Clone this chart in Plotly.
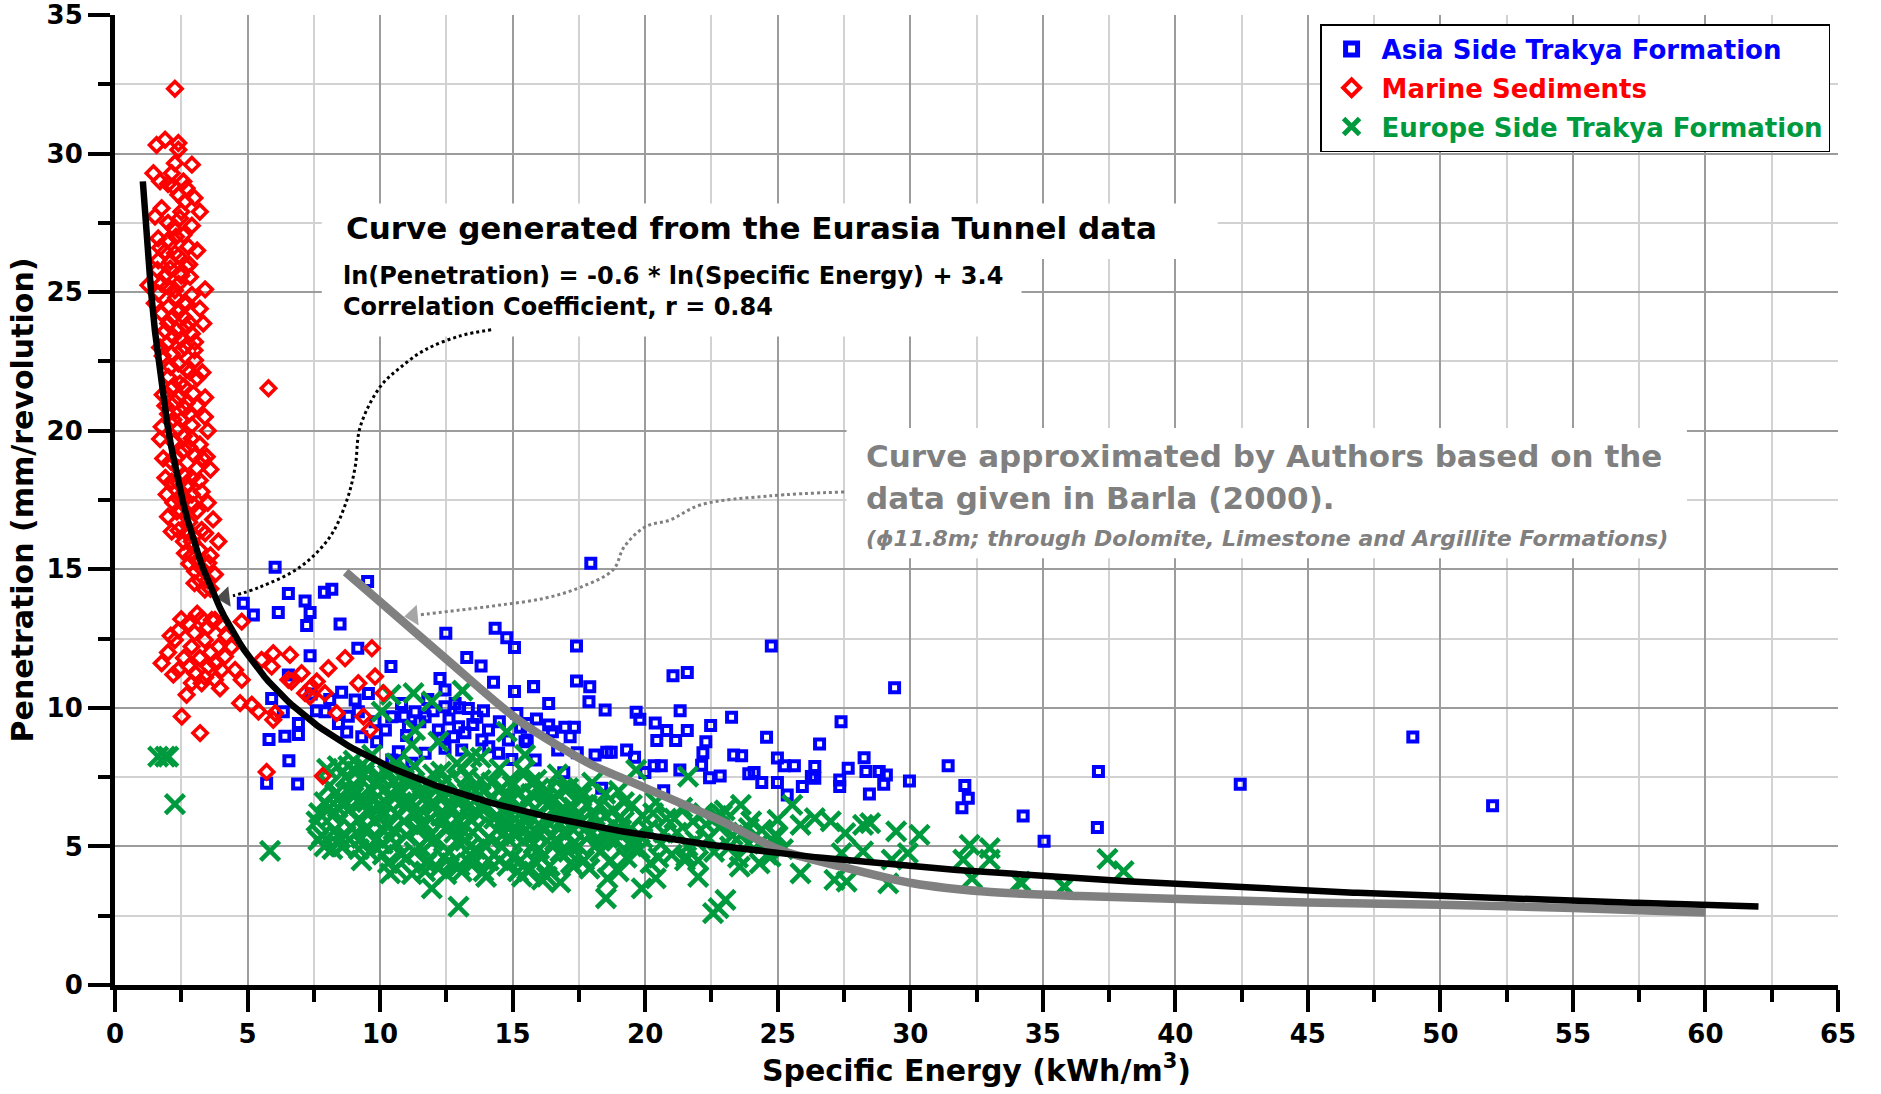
import numpy as np
import plotly.graph_objects as go

# ---------------------------------------------------------------------------
# Measured data (Specific Energy [kWh/m3], Penetration [mm/rev])
# ---------------------------------------------------------------------------
asia_pts = [
    (6.04, 15.07), (6.54, 14.13), (4.84, 13.77), (5.22, 13.35), (7.17, 13.86), (7.36, 13.44),
    (7.90, 14.17), (8.18, 14.28), (9.53, 14.56), (6.16, 13.44), (7.23, 12.97), (8.49, 13.03),
    (12.48, 12.69), (14.34, 12.87), (14.78, 12.53), (15.07, 12.18), (7.36, 11.88), (9.16, 12.15),
    (10.41, 11.49), (13.27, 11.82), (13.81, 11.51), (12.26, 11.06), (12.45, 10.64), (14.28, 10.92),
    (15.07, 10.59), (15.79, 10.77), (6.54, 11.19), (5.91, 10.34), (8.55, 10.56), (9.06, 10.28),
    (9.56, 10.52), (10.81, 10.16), (11.32, 9.86), (12.45, 10.04), (12.83, 10.16), (13.33, 9.98),
    (13.65, 9.66), (15.16, 9.80), (6.35, 9.86), (6.92, 9.44), (7.92, 9.86), (8.43, 9.44),
    (9.18, 9.86), (9.81, 9.50), (10.44, 9.68), (11.07, 9.32), (11.70, 9.68), (12.20, 9.20),
    (12.96, 9.32), (14.09, 9.20), (14.84, 8.84), (15.47, 8.78), (5.81, 8.86), (6.41, 8.98),
    (6.92, 9.04), (8.74, 9.13), (9.31, 8.96), (9.87, 8.78), (12.77, 8.96), (13.84, 8.84),
    (14.47, 8.36), (14.97, 8.14), (10.69, 8.42), (11.70, 8.36), (12.45, 8.54), (13.08, 8.48),
    (6.56, 8.09), (5.72, 7.28), (6.89, 7.25), (10.44, 8.12), (11.20, 8.00),
    (11.5, 9.5), (12.0, 9.9), (12.6, 9.6), (13.0, 10.0), (11.0, 9.0), (13.5, 9.4), (14.5, 9.5),
    (10.9, 9.7), (12.3, 8.9), (13.9, 9.9), (15.3, 9.3), (15.9, 9.6), (14.1, 8.6),
    (7.6, 9.9), (8.1, 10.3), (8.8, 9.7), (7.4, 10.5), (10.2, 9.2), (11.8, 10.3), (13.2, 9.1),
    (17.95, 15.22), (17.41, 12.23), (24.76, 12.23), (21.05, 11.16), (21.59, 11.28), (29.41, 10.73),
    (17.41, 10.97), (17.91, 10.76), (15.79, 10.76), (16.36, 10.16), (18.49, 9.92), (17.88, 10.22),
    (19.66, 9.84), (19.80, 9.59), (21.32, 9.90), (23.26, 9.66), (27.39, 9.50), (20.38, 9.45),
    (20.81, 9.18), (21.59, 9.18), (22.47, 9.36), (20.44, 8.82), (21.15, 8.82), (22.29, 8.78),
    (24.58, 8.94), (26.58, 8.70), (22.18, 8.38), (23.34, 8.30), (23.64, 8.27), (28.26, 8.20),
    (24.99, 8.19), (25.25, 7.91), (25.63, 7.91), (27.66, 7.82), (26.40, 7.88), (31.43, 7.91),
    (28.33, 7.70), (28.83, 7.70), (29.10, 7.58), (32.06, 7.20), (32.19, 6.74), (31.95, 6.40),
    (34.26, 6.10), (35.05, 5.19), (29.97, 7.36), (29.00, 7.24), (28.46, 6.89), (27.34, 7.40),
    (27.34, 7.16), (26.27, 7.52), (26.40, 7.46), (25.93, 7.16), (24.99, 7.31), (25.36, 6.86),
    (24.40, 7.31), (23.91, 7.62), (24.11, 7.67), (22.83, 7.54), (22.43, 7.48), (22.13, 7.93),
    (21.31, 7.76), (20.70, 7.01), (20.34, 7.91), (20.61, 7.91), (19.60, 8.22), (19.30, 8.48),
    (18.55, 8.40), (18.72, 8.40), (18.11, 8.30), (17.44, 8.38), (19.99, 7.67), (18.36, 7.10),
    (16.93, 7.66), (16.97, 9.30), (17.33, 9.30), (17.17, 8.96), (16.50, 9.14), (16.36, 9.38),
    (15.55, 9.44), (15.55, 8.84), (16.70, 8.48), (15.85, 8.12),
    (37.10, 7.70), (37.06, 5.68), (42.45, 7.24), (48.96, 8.95), (51.97, 6.47),
]

marine_pts = [
    (2.26, 32.34),
    (1.57, 30.31), (1.89, 30.50), (2.39, 30.38), (2.39, 30.14), (2.26, 29.65), (1.45, 29.29),
    (2.14, 29.29), (2.58, 28.99), (2.20, 28.81), (2.70, 28.75), (2.39, 28.51), (2.64, 28.27),
    (1.76, 28.03), (1.51, 27.73), (2.45, 27.67), (2.20, 27.31), (1.63, 26.94), (2.01, 26.88),
    (2.58, 27.06), (2.77, 26.64), (1.89, 26.46), (2.26, 26.40), (1.63, 26.15), (2.70, 25.91),
    (2.08, 25.85), (2.83, 25.55), (1.76, 25.31), (1.26, 25.25), (2.26, 25.07), (1.63, 24.95),
    (2.70, 24.59), (2.01, 24.47), (1.76, 24.23), (2.39, 24.29), (3.33, 23.87), (2.01, 23.87),
    (2.70, 23.75), (2.33, 23.63), (3.02, 23.20), (1.95, 23.14), (2.64, 23.02), (2.14, 22.78),
    (3.02, 22.54), (2.39, 22.42), (2.83, 22.12), (2.01, 21.94), (2.45, 21.70), (2.96, 21.34),
    (5.79, 21.53), (2.26, 21.04), (2.64, 20.80), (3.39, 20.50), (1.76, 20.14), (2.39, 20.08),
    (2.89, 19.72), (3.46, 19.06), (1.82, 19.00), (2.39, 18.64), (3.08, 18.64), (2.14, 18.16),
    (2.77, 18.04), (3.27, 17.80), (2.39, 17.56), (2.96, 17.32), (2.33, 17.08), (2.14, 16.36),
    (3.27, 16.42), (3.90, 16.00), (2.64, 15.58), (3.02, 14.93), (3.52, 15.23), (3.77, 14.81),
    (3.39, 14.27),
    (2.5, 27.9), (2.3, 27.0), (2.9, 27.4), (2.1, 26.1), (2.5, 25.6), (2.9, 24.9), (2.3, 24.8),
    (1.9, 25.6), (2.6, 24.1), (2.2, 23.4), (2.9, 23.5), (1.8, 22.7), (2.5, 22.9), (2.7, 22.2),
    (2.2, 21.6), (2.7, 21.0), (3.1, 21.9), (2.0, 20.6), (2.5, 20.4), (2.9, 20.2), (3.1, 20.9),
    (2.2, 19.6), (2.6, 19.3), (3.0, 19.1), (2.1, 18.9), (2.6, 18.4), (2.9, 17.7), (2.5, 17.1),
    (2.8, 16.7), (2.4, 16.4), (3.0, 16.2), (2.6, 16.0), (2.9, 15.5), (3.2, 15.7), (3.3, 15.0),
    (3.5, 14.6), (3.0, 14.5),
    (1.7, 26.6), (2.0, 27.5), (2.4, 26.3), (2.8, 26.0), (2.0, 25.2), (2.4, 25.3), (2.6, 24.6),
    (2.2, 24.1), (1.9, 23.6), (2.5, 23.3), (2.8, 23.9), (2.1, 22.3), (2.6, 21.6), (3.0, 22.9),
    (2.4, 21.2), (2.8, 20.6), (2.2, 20.4), (2.6, 19.8), (2.3, 19.0), (2.8, 19.4), (3.2, 19.5),
    (2.4, 18.1), (2.9, 18.3), (3.2, 18.2), (2.6, 17.6), (2.2, 17.4), (3.1, 17.1), (2.7, 16.3),
    (2.9, 16.0), (3.4, 16.3), (2.8, 15.2), (3.1, 15.3), (3.6, 15.5), (3.2, 14.6), (3.6, 14.3),
    (1.6, 25.8), (1.5, 24.6), (1.7, 23.0), (1.8, 21.3), (1.9, 20.9), (1.7, 19.7), (1.9, 18.3),
    (1.95, 17.7), (2.0, 16.9), (3.3, 22.1), (3.4, 21.2), (3.5, 20.0), (3.3, 19.0), (3.6, 18.6),
    (3.5, 17.4), (3.7, 16.8), (3.4, 25.1), (3.2, 24.4), (3.1, 26.5), (3.2, 27.9), (2.0, 28.9),
    (1.7, 29.0), (2.9, 29.6), (3.0, 28.4),
    (1.76, 11.61), (2.26, 12.45), (2.77, 13.05), (3.27, 13.23), (3.65, 13.17), (2.89, 12.21),
    (3.39, 12.45), (3.90, 12.21), (4.15, 11.85), (2.39, 11.37), (3.02, 11.25), (3.52, 11.49),
    (4.02, 11.37), (3.27, 10.89), (3.77, 11.01), (4.53, 11.37), (4.78, 11.01), (3.96, 10.71),
    (2.70, 10.47), (2.52, 9.69), (3.21, 9.09), (4.78, 13.11), (3.77, 13.17), (4.72, 10.17),
    (5.16, 10.11), (5.41, 9.87), (5.53, 11.73), (5.97, 11.97), (6.60, 11.91), (5.91, 11.49),
    (7.04, 11.25), (6.66, 10.95), (7.61, 10.95), (8.05, 11.43), (8.68, 11.79), (9.69, 12.15),
    (7.92, 10.53), (7.35, 10.41), (5.97, 9.57), (6.04, 9.81), (7.17, 10.53), (8.36, 9.81),
    (9.18, 10.89), (9.81, 11.13), (9.37, 9.69), (9.62, 9.21), (10.13, 10.53), (5.72, 7.69),
    (7.84, 7.54), (7.42, 10.77), (6.54, 11.01),
    (2.0, 12.0), (2.4, 12.8), (2.6, 11.8), (3.0, 12.7), (3.2, 11.8), (3.5, 12.9), (2.8, 11.5),
    (3.6, 12.0), (2.2, 11.2), (3.1, 13.4), (2.5, 13.2), (4.2, 12.6), (3.8, 11.6), (4.4, 12.2),
    (2.9, 10.9), (3.4, 11.1), (2.1, 12.6), (4.0, 13.0),
]

europe_pts = [
    (1.63, 8.24), (1.89, 8.24), (2.01, 8.24), (2.26, 6.53), (5.85, 4.84),
    (10.40, 10.47), (11.26, 10.53), (11.95, 10.23), (13.11, 10.62), (10.06, 9.86), (11.32, 9.20),
    (11.20, 8.66), (12.20, 8.78), (14.78, 9.14), (15.47, 8.30), (13.46, 8.24),
    (11.95, 3.49), (12.96, 2.83), (7.67, 5.23), (8.55, 4.99), (10.38, 4.03), (11.76, 4.39),
    (13.08, 4.09), (13.46, 4.33), (15.35, 3.91), (16.10, 3.80),
    (19.66, 7.76), (21.62, 7.52), (23.61, 6.50), (25.55, 6.50), (22.90, 6.14), (24.99, 5.96),
    (23.91, 5.66), (25.86, 5.78), (26.40, 6.02), (27.00, 5.90), (27.55, 5.48), (28.22, 5.78),
    (28.49, 5.84), (29.47, 5.54), (30.35, 5.42), (32.24, 5.06), (33.00, 4.94), (29.91, 4.76),
    (29.30, 4.52), (32.00, 4.52), (33.00, 4.52), (28.22, 4.82), (27.41, 4.76), (27.14, 3.79),
    (27.60, 3.73), (25.86, 4.03), (29.17, 3.67), (32.33, 3.85), (34.15, 3.73), (35.80, 3.55),
    (23.57, 4.27), (22.77, 2.77), (22.56, 2.59), (23.03, 3.07), (21.55, 4.63), (20.40, 3.85),
    (19.87, 3.49), (18.52, 3.13), (18.58, 3.85), (16.29, 3.91), (15.55, 4.15), (17.30, 4.27),
    (24.73, 4.63), (24.32, 4.39), (24.99, 5.36), (34.20, 3.67), (35.83, 3.55), (37.44, 4.55),
    (38.05, 4.11),
    (7.6, 5.9), (7.8, 5.4), (7.9, 6.6), (8.1, 7.2), (8.2, 6.1), (8.3, 5.6), (8.4, 7.9),
    (8.5, 6.8), (8.6, 5.0), (8.7, 7.5), (8.8, 6.3), (8.9, 5.7), (9.0, 8.1), (9.1, 7.0),
    (9.2, 6.0), (9.3, 5.3), (9.4, 7.6), (9.5, 6.6), (9.6, 4.8), (9.7, 8.3), (9.8, 5.9),
    (9.9, 7.2), (10.0, 6.4), (10.1, 5.1), (10.2, 7.8), (10.3, 4.4), (10.4, 6.9), (10.5, 5.6),
    (10.6, 8.0), (10.7, 6.1), (10.8, 4.7), (10.9, 7.4), (11.0, 5.4), (11.1, 6.7), (11.2, 4.0),
    (11.3, 7.9), (11.4, 6.2), (11.5, 5.0), (11.6, 7.1), (11.7, 5.8), (11.8, 4.5), (11.9, 6.5),
    (12.0, 7.6), (12.1, 5.3), (12.2, 4.2), (12.3, 6.9), (12.4, 5.9), (12.5, 7.4), (12.6, 4.8),
    (12.7, 6.3), (12.8, 5.5), (12.9, 8.0), (13.0, 4.3), (13.1, 6.8), (13.2, 5.2), (13.3, 7.5),
    (13.4, 6.0), (13.5, 4.6), (13.6, 7.0), (13.7, 5.7), (13.8, 8.2), (13.9, 4.1), (14.0, 6.5),
    (14.1, 5.3), (14.2, 7.3), (14.3, 4.7), (14.4, 6.1), (14.5, 7.8), (14.6, 5.0), (14.7, 6.8),
    (14.8, 4.3), (14.9, 5.8), (15.0, 7.2), (15.1, 5.4), (15.2, 6.4), (15.3, 4.5), (15.4, 7.7),
    (15.5, 5.9), (15.6, 4.1), (15.7, 6.9), (15.8, 5.1), (15.9, 7.4), (16.0, 6.2), (16.1, 4.6),
    (16.2, 5.6), (16.3, 7.0), (16.4, 4.3), (16.5, 6.6), (16.6, 5.2), (16.7, 7.6), (16.8, 4.8),
    (16.9, 6.0), (17.0, 5.4), (17.1, 7.1), (17.2, 4.4), (17.3, 6.4), (17.5, 5.0), (17.6, 6.8),
    (17.8, 5.7), (17.9, 4.2), (18.0, 7.3), (18.1, 6.1), (18.3, 4.8), (18.4, 5.5), (18.5, 6.9),
    (18.7, 4.5), (18.8, 6.3), (18.9, 5.2), (19.0, 7.0), (19.2, 5.9), (19.3, 4.6), (19.5, 6.5),
    (19.6, 5.3), (19.8, 4.9), (19.9, 6.1), (20.1, 5.6), (20.2, 4.4), (20.4, 6.6), (20.6, 5.1),
    (20.8, 6.0), (21.0, 4.7), (21.2, 5.5), (21.4, 6.4), (21.6, 5.0), (21.8, 5.9), (22.0, 4.5),
    (22.2, 6.2), (22.4, 5.3), (22.6, 4.8), (22.8, 5.7), (23.0, 6.3), (23.2, 5.0), (23.5, 4.6),
    (23.7, 5.5), (24.0, 5.9), (24.3, 5.1), (24.6, 4.7), (24.9, 5.4), (25.2, 4.9),
    (9.0, 6.8), (9.6, 6.2), (10.2, 5.8), (10.5, 7.3), (11.0, 6.5), (11.4, 5.6), (11.9, 7.2),
    (12.3, 6.1), (12.8, 6.7), (13.2, 7.1), (13.5, 5.5), (13.9, 6.3), (14.4, 5.6), (14.9, 6.8),
    (15.4, 6.0), (15.9, 5.5), (16.3, 6.5), (16.8, 5.8), (17.4, 6.0), (18.2, 5.8), (19.1, 5.6),
    (10.3, 6.5), (12.0, 5.2), (13.0, 5.9), (14.6, 6.3), (11.6, 6.7), (9.4, 5.6), (8.6, 6.5),
    (8.0, 7.8), (8.3, 6.9), (8.5, 5.3), (8.8, 7.9), (9.1, 5.5), (9.3, 6.6), (9.5, 7.8),
    (9.8, 6.7), (10.0, 7.5), (10.1, 4.7), (10.4, 5.3), (10.7, 7.0), (10.9, 5.9), (11.1, 7.7),
    (11.3, 4.8), (11.5, 6.9), (11.8, 5.3), (12.1, 6.5), (12.3, 7.7), (12.5, 5.6), (12.7, 4.4),
    (12.9, 6.9), (13.1, 5.6), (13.3, 6.4), (13.6, 4.9), (13.8, 7.4), (14.0, 5.0), (14.2, 6.8),
    (14.5, 4.5), (14.7, 5.5), (14.9, 7.4), (15.1, 6.0), (15.4, 5.2), (15.6, 6.6), (15.8, 4.5),
    (16.0, 7.1), (16.2, 6.0), (16.5, 5.0), (16.7, 6.2), (16.9, 7.1), (17.1, 4.8), (17.3, 5.6),
    (17.6, 5.9), (17.8, 6.5), (18.1, 5.0), (18.5, 6.1), (18.8, 5.8), (19.2, 6.6), (19.5, 5.0),
    (19.9, 5.3), (20.3, 6.2), (20.7, 5.5), (21.1, 6.0), (21.5, 4.5), (21.9, 5.2), (22.3, 5.8),
    (22.7, 6.1), (23.3, 5.4), (23.9, 5.1), (24.4, 5.6), (9.2, 4.9), (10.6, 4.2), (12.5, 4.0),
    (14.0, 3.9), (15.2, 4.1), (16.8, 3.7), (17.7, 4.5), (19.0, 4.1), (20.5, 4.6), (22.0, 3.9),
    (8.2, 4.9), (8.4, 6.4), (8.7, 5.4), (8.9, 7.0), (9.1, 7.7), (9.3, 4.5), (9.6, 7.1),
    (9.9, 5.3), (10.1, 6.1), (10.3, 7.6), (10.6, 5.1), (10.8, 6.6), (11.0, 4.6), (11.2, 7.3),
    (11.5, 5.8), (11.7, 4.1), (11.9, 6.0), (12.2, 7.1), (12.4, 4.6), (12.6, 6.5), (12.9, 5.2),
    (13.1, 7.8), (13.4, 5.0), (13.6, 6.3), (13.9, 7.0), (14.1, 4.5), (14.3, 6.0), (14.6, 7.1),
    (14.8, 5.3), (15.0, 4.6), (15.2, 6.9), (15.5, 5.6), (15.7, 7.3), (16.0, 4.9), (16.2, 6.7),
    (16.5, 5.4), (16.7, 6.9), (17.0, 6.3), (17.3, 5.1), (17.6, 7.0), (17.9, 5.4), (18.3, 6.5),
    (18.6, 5.3), (19.0, 6.0), (19.4, 5.6), (8.1, 6.4), (7.7, 6.2), (7.9, 5.0),
]

# Curve approximated from Barla (2000)
barla_curve = [
    (8.7, 14.9), (12.45, 11.8), (15.3, 9.5), (18.0, 7.94), (19.3, 7.4), (22.8, 5.95),
    (25.1, 4.87), (27.4, 4.27), (30.1, 3.67), (32.8, 3.37), (36.4, 3.21), (45.0, 2.98),
    (50.0, 2.9), (55.0, 2.78), (60.0, 2.62),
]

# Regression on Eurasia Tunnel data: ln(P) = -0.6 * ln(SE) + 3.4 (coefficients shown rounded)
fit_slope = -0.57
fit_intercept = 3.395
fit_x_start, fit_x_end = 1.05, 62.0

# Dotted leader lines from the two text boxes; last pair = arrow shaft end and tip
leader_fit = [
    (14.19, 23.64), (13.02, 23.42), (11.70, 22.92), (10.75, 22.27), (10.0, 21.58),
    (9.25, 20.14), (9.06, 18.69), (8.75, 17.50), (8.11, 16.17), (6.98, 15.08),
    (5.47, 14.36), (4.45, 14.04),
]
leader_fit_head = [(4.6, 14.05), (4.15, 14.0)]
leader_barla = [
    (27.51, 17.79), (24.72, 17.65), (22.08, 17.32), (20.94, 16.78), (20.0, 16.53),
    (19.21, 15.81), (18.79, 14.98), (17.58, 14.36), (16.23, 13.96), (14.53, 13.71),
    (13.02, 13.53), (11.43, 13.35),
]
leader_barla_head = [(11.8, 13.38), (11.25, 13.33)]

BLUE = "#0000FF"
RED = "#FF0000"
GREEN = "#009A3E"
GREY = "#808080"
FONT = "DejaVu Sans"


def split(pts):
    return [p[0] for p in pts], [p[1] for p in pts]


fig = go.Figure()

# white panels behind the text blocks (above the grid, below the data)
panels = [(7.8, 26.2, 41.6, 28.2), (7.8, 23.4, 34.2, 26.2), (27.6, 15.4, 59.3, 20.1)]
for x0, y0, x1, y1 in panels:
    fig.add_shape(type="rect", xref="x", yref="y", x0=x0, y0=y0, x1=x1, y1=y1,
                  fillcolor="white", line=dict(width=0), layer="between")

ax_, ay_ = split(asia_pts)
fig.add_trace(go.Scatter(x=ax_, y=ay_, mode="markers", showlegend=False,
                         marker=dict(symbol="square-open", size=9, color=BLUE,
                                     line=dict(width=4, color=BLUE))))
ex_, ey_ = split(europe_pts)
fig.add_trace(go.Scatter(x=ex_, y=ey_, mode="markers", showlegend=False,
                         marker=dict(symbol="x-thin", size=19, color=GREEN,
                                     line=dict(width=4.6, color=GREEN))))
mx_, my_ = split(marine_pts)
fig.add_trace(go.Scatter(x=mx_, y=my_, mode="markers", showlegend=False,
                         marker=dict(symbol="diamond-open", size=11, color=RED,
                                     line=dict(width=3.6, color=RED))))

bx, by = split(barla_curve)
fig.add_trace(go.Scatter(x=bx, y=by, mode="lines", showlegend=False,
                         line=dict(color=GREY, width=8.5, shape="spline", smoothing=0.8)))

fit_x = np.linspace(fit_x_start, fit_x_end, 400)
fit_y = np.exp(fit_intercept + fit_slope * np.log(fit_x))
fig.add_trace(go.Scatter(x=fit_x, y=fit_y, mode="lines", showlegend=False,
                         line=dict(color="black", width=6.5)))

for pts, head, col in [(leader_fit, leader_fit_head, "black"),
                       (leader_barla, leader_barla_head, GREY)]:
    lx, ly = split(pts)
    fig.add_trace(go.Scatter(x=lx, y=ly, mode="lines", showlegend=False,
                             line=dict(color=col, width=3, dash="dot", shape="spline")))
    hx, hy = split(head)
    fig.add_trace(go.Scatter(x=hx, y=hy, mode="markers", showlegend=False,
                             marker=dict(symbol="triangle-up", size=[0, 18], color=col,
                                         angleref="previous", line=dict(width=0))))

# legend entries
legend_items = [
    ("Asia Side Trakya Formation", BLUE, "square-open", 12, 5),
    ("Marine Sediments", RED, "diamond-open", 13, 4),
    ("Europe Side Trakya Formation", GREEN, "x-thin", 18, 5),
]
for i, (name, col, sym, sz, lw) in enumerate(legend_items):
    fig.add_trace(go.Scatter(
        x=[None], y=[None], mode="markers", legendgroup=f"g{i}",
        name=f"<span style='color:{col}'>{name}</span>",
        marker=dict(symbol=sym, size=sz, color=col, line=dict(width=lw, color=col))))

annotations = [
    dict(x=8.64, y=27.32, text="Curve generated from the Eurasia Tunnel data",
         font=dict(size=31, color="black"), xanchor="left", yanchor="middle", showarrow=False),
    dict(x=8.53, y=25.01,
         text="ln(Penetration) = -0.6 * ln(Specific Energy) + 3.4<br>Correlation Coefficient, r = 0.84",
         font=dict(size=24, color="black"), xanchor="left", yanchor="middle", align="left",
         showarrow=False),
    dict(x=28.26, y=19.09, text="Curve approximated by Authors based on the",
         font=dict(size=31, color=GREY), xanchor="left", yanchor="middle", showarrow=False),
    dict(x=28.26, y=17.57, text="data given in Barla (2000).",
         font=dict(size=31, color=GREY), xanchor="left", yanchor="middle", showarrow=False),
    dict(x=28.26, y=16.10,
         text="<i>(\u03d511.8m; through Dolomite, Limestone and Argillite Formations)</i>",
         font=dict(size=22, color=GREY), xanchor="left", yanchor="middle", showarrow=False),
]

axis_common = dict(
    showline=True, linewidth=5, linecolor="black", mirror=False, zeroline=False,
    automargin=False,
    ticks="outside", ticklen=22, tickwidth=4, tickcolor="black",
    showgrid=True, gridcolor="#9c9c9c", gridwidth=1.5,
    tickfont=dict(size=26, color="black", family=FONT, weight="bold"),
    minor=dict(ticks="outside", ticklen=12, tickwidth=4, tickcolor="black",
               showgrid=True, gridcolor="#d2d2d2", gridwidth=1.5),
)

fig.update_layout(
    width=1881, height=1094,
    margin=dict(l=115, r=43, t=15, b=109, autoexpand=False),
    paper_bgcolor="white", plot_bgcolor="white",
    font=dict(family=FONT, size=24, color="black", weight="bold"),
    annotations=annotations,
    legend=dict(x=0.9954, y=0.9907, xanchor="right", yanchor="top",
                bgcolor="white", bordercolor="black", borderwidth=1.5, itemwidth=50,
                font=dict(size=26, family=FONT, weight="bold"), tracegroupgap=2),
    xaxis=dict(range=[0, 65], tick0=0, dtick=5,
               title=dict(text="Specific Energy (kWh/m<sup>3</sup>)",
                          font=dict(size=30, family=FONT, weight="bold"), standoff=8),
               **axis_common),
    yaxis=dict(range=[0, 35], tick0=0, dtick=5,
               title=dict(text="Penetration (mm/revolution)",
                          font=dict(size=30, family=FONT, weight="bold"), standoff=6),
               **axis_common),
)
fig.update_xaxes(minor_dtick=2.5)
fig.update_yaxes(minor_dtick=2.5)

fig.write_html("out.html")
